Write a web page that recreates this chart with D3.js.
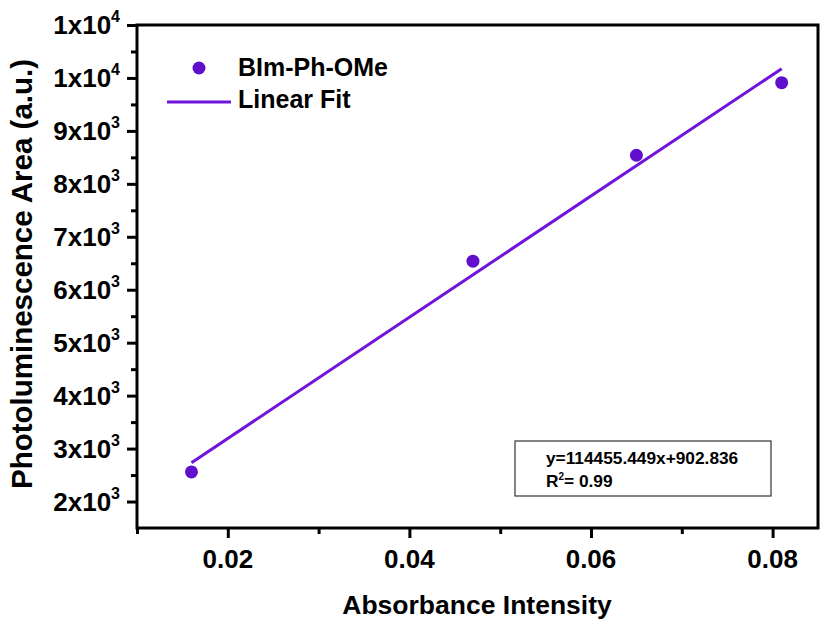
<!DOCTYPE html>
<html>
<head>
<meta charset="utf-8">
<script src="https://cdn.jsdelivr.net/npm/d3@7"></script>
<style>
  body { margin: 0; background: #fff; }
  text { font-family: Arial, "Liberation Sans", sans-serif; font-weight: bold; fill: #000; }
</style>
</head>
<body>
<div id="chart"></div>
<script>
const width = 822;
const height = 623;

// measured points (absorbance, PL area)
const absorbance = [0.016, 0.047, 0.065, 0.081];
const plArea = [2560, 6540, 8540, 9910];

// linear fit
const slope = 114455.449;
const intercept = 902.836;
const fitRange = [0.016, 0.081];

const xTicks = [0.02, 0.04, 0.06, 0.08];
const yTicks = [2000, 3000, 4000, 5000, 6000, 7000, 8000, 9000, 10000, 11000];
// Origin rounds the top label to 1x10^4 as well
const yTickLabels = [["2", "3"], ["3", "3"], ["4", "3"], ["5", "3"], ["6", "3"], ["7", "3"], ["8", "3"], ["9", "3"], ["1", "4"], ["1", "4"]];

const margin = {top: 25, right: 4, bottom: 95, left: 137};

const svg = d3.select("#chart").append("svg")
  .attr("width", width)
  .attr("height", height);

const x = d3.scaleLinear().domain([0.01, 0.085]).range([margin.left, width - margin.right]);
const y = d3.scaleLinear().domain([1500, 11000]).range([height - margin.bottom, margin.top]);

const pointColor = "#6010cc";
const lineColor = "#7014dc";

// x axis ticks
const xAxis = svg.append("g")
  .attr("transform", `translate(0,${y(1500)})`)
  .call(d3.axisBottom(x).tickValues(d3.range(0.01, 0.0851, 0.01)).tickSize(10).tickFormat(""));
xAxis.select(".domain").remove();
xAxis.selectAll(".tick line")
  .attr("stroke-width", 3)
  .attr("y2", d => Math.round(d * 100) % 2 === 0 ? 10 : 6);

svg.selectAll(".xlab").data(xTicks).join("text")
  .attr("class", "xlab")
  .attr("x", d => x(d))
  .attr("y", y(1500) + 40)
  .attr("text-anchor", "middle")
  .attr("font-size", 26)
  .text(d => d.toFixed(2));

// y axis ticks
const yAxis = svg.append("g")
  .attr("transform", `translate(${x(0.01)},0)`)
  .call(d3.axisLeft(y).tickValues(d3.range(2000, 11001, 500)).tickSize(10).tickFormat(""));
yAxis.select(".domain").remove();
yAxis.selectAll(".tick line")
  .attr("stroke-width", 3)
  .attr("x2", d => d % 1000 === 0 ? -10 : -6);

const ylab = svg.selectAll(".ylab").data(yTicks).join("text")
  .attr("class", "ylab")
  .attr("x", x(0.01) - 17)
  .attr("y", d => y(d) + 9)
  .attr("text-anchor", "end")
  .attr("font-size", 26);
ylab.append("tspan").text((d, i) => yTickLabels[i][0] + "x10");
ylab.append("tspan")
  .attr("dy", -12)
  .attr("font-size", 16)
  .text((d, i) => yTickLabels[i][1]);

// frame
svg.append("rect")
  .attr("x", x(0.01))
  .attr("y", y(11000))
  .attr("width", x(0.085) - x(0.01))
  .attr("height", y(1500) - y(11000))
  .attr("fill", "none")
  .attr("stroke", "#000")
  .attr("stroke-width", 3);

// fit line
svg.append("line")
  .attr("x1", x(fitRange[0]))
  .attr("y1", y(slope * fitRange[0] + intercept))
  .attr("x2", x(fitRange[1]))
  .attr("y2", y(slope * fitRange[1] + intercept))
  .attr("stroke", lineColor)
  .attr("stroke-width", 3);

// points
svg.selectAll(".pt").data(absorbance).join("circle")
  .attr("class", "pt")
  .attr("cx", d => x(d))
  .attr("cy", (d, i) => y(plArea[i]))
  .attr("r", 6.5)
  .attr("fill", pointColor);

// legend
svg.append("circle").attr("cx", 199).attr("cy", 68).attr("r", 6.5).attr("fill", pointColor);
svg.append("text").attr("x", 238).attr("y", 76).attr("font-size", 25).text("BIm-Ph-OMe");
svg.append("line").attr("x1", 167).attr("x2", 231).attr("y1", 102).attr("y2", 102)
  .attr("stroke", lineColor).attr("stroke-width", 3);
svg.append("text").attr("x", 238).attr("y", 108).attr("font-size", 25).text("Linear Fit");

// equation box
svg.append("rect")
  .attr("x", 515).attr("y", 441).attr("width", 256).attr("height", 55)
  .attr("fill", "#fff").attr("stroke", "#333").attr("stroke-width", 1.2);
svg.append("text").attr("x", 546).attr("y", 464).attr("font-size", 17.3)
  .text(`y=${slope}x+${intercept}`);
const r2 = svg.append("text").attr("x", 546).attr("y", 487).attr("font-size", 17.3);
r2.append("tspan").text("R");
r2.append("tspan").attr("dy", -7).attr("font-size", 10).text("2");
r2.append("tspan").attr("dy", 7).text("= 0.99");

// axis titles
svg.append("text")
  .attr("x", 477)
  .attr("y", 614)
  .attr("text-anchor", "middle")
  .attr("font-size", 26.5)
  .text("Absorbance Intensity");

svg.append("text")
  .attr("transform", `translate(32,274) rotate(-90)`)
  .attr("text-anchor", "middle")
  .attr("font-size", 29.5)
  .text("Photoluminescence Area (a.u.)");
</script>
</body>
</html>
